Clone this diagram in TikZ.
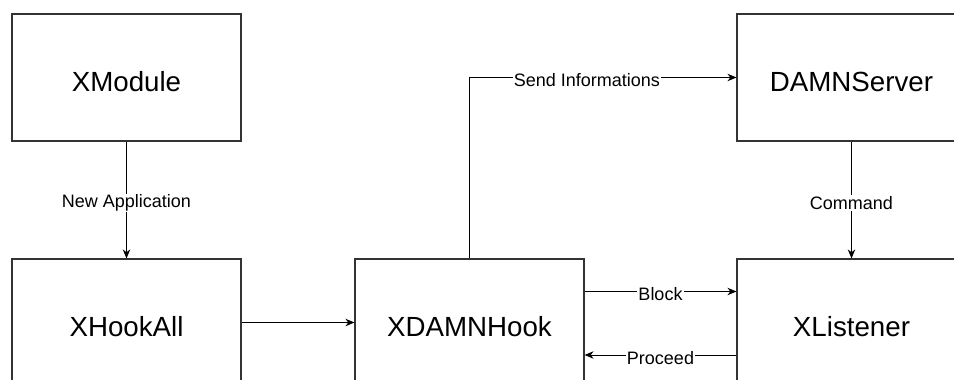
\documentclass[tikz,border=0pt]{standalone}
\usepackage{fontspec}
\setmainfont{Liberation Sans}
\usetikzlibrary{arrows.meta}

\begin{document}
\begin{tikzpicture}
[
x=1pt, y=-1pt,
blk/.style={draw=black!80, line width=1.2pt, minimum width=229pt, minimum height=127pt, text height=27pt, text depth=0pt, font=\fontsize{27.7}{32}\selectfont},
arr/.style={line width=1pt, -{Stealth[length=9pt,width=7.5pt]}},
lbl/.style={fill=white, inner sep=1pt, yshift=-3pt, font=\fontsize{18}{21}\selectfont}
]
\useasboundingbox (0,0) rectangle (954,380);
\clip (0,0) rectangle (954,380);

\node[blk] (xmodule) at (126.5,77.5) {XModule};
\node[blk] (xhookall) at (126.5,322.5) {XHookAll};
\node[blk] (xdamnhook) at (469.5,322.5) {XDAMNHook};
\node[blk] (damnserver) at (851.5,77.5) {DAMNServer};
\node[blk] (xlistener) at (851.5,322.5) {XListener};

\draw[arr] (xmodule) -- node[lbl] {New Application} (xhookall);
\draw[arr] (xhookall) -- (xdamnhook);
\draw[arr] (xdamnhook.north) |- node[lbl, pos=0.72] {Send Informations} (damnserver.west);
\draw[arr] (damnserver) -- node[lbl] {Command} (xlistener);
\draw[arr] ([yshift=31pt]xdamnhook.east) -- node[lbl] {Block} ([yshift=31pt]xlistener.west);
\draw[arr] ([yshift=-32.5pt]xlistener.west) -- node[lbl] {Proceed} ([yshift=-32.5pt]xdamnhook.east);
\end{tikzpicture}
\end{document}
